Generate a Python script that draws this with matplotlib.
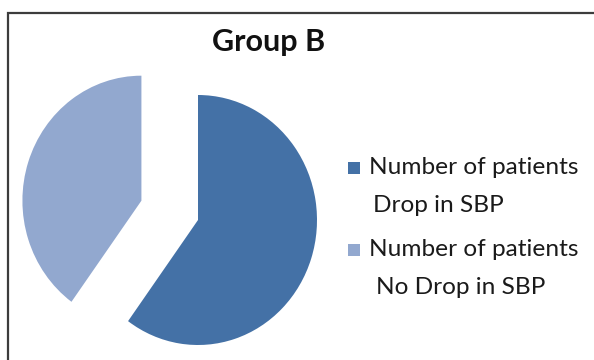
import matplotlib
matplotlib.use("Agg")
import matplotlib.pyplot as plt
from matplotlib.patches import Rectangle

plt.rcParams['font.family'] = ['Lato', 'DejaVu Sans']

# Group B: patients with / without a drop in systolic blood pressure
series = ["Number of patients", "Number of patients"]
subtitles = ["Drop in SBP", "No Drop in SBP"]
counts = [60, 40]
colours = ["#4471A6", "#92A8CF"]
explode = [0, 0.5]

W, H = 594, 360
fig = plt.figure(figsize=(W / 100, H / 100), dpi=100)

# outer chart frame, open on the right and bottom
fig.add_artist(Rectangle((7.5 / W, -0.1), 1.2, (H - 12.5) / H + 0.1,
                         transform=fig.transFigure, fill=False,
                         edgecolor="#3c3c3c", linewidth=1.6))

# pie axes centred on (198, 220) px from the top-left corner
cx, cy, half = 198, H - 220, 200
ax = fig.add_axes([(cx - half) / W, (cy - half) / H, 2 * half / W, 2 * half / H])
wedges, _ = ax.pie(counts, colors=colours, explode=explode, startangle=90,
                   counterclock=False, radius=1.0)
ax.set_xlim(-half / 119, half / 119)
ax.set_ylim(-half / 125, half / 125)
ax.set_aspect("auto")
ax.axis("off")

fig.text(269 / W, 1 - 42 / H, "Group B", ha="center", va="center",
         fontsize=22, fontweight="bold", color="#111111")

# legend: square key level with the first line, second line below it
rows = [168, 250]
indent = [373, 376]
for w, name, sub, y, x2 in zip(wedges, series, subtitles, rows, indent):
    fig.add_artist(Rectangle((348 / W, 1 - (y + 6) / H), 12 / W, 12 / H,
                             transform=fig.transFigure,
                             facecolor=w.get_facecolor(), edgecolor="none"))
    fig.text(369 / W, 1 - y / H, name, ha="left", va="center",
             fontsize=17.6, color="#1a1a1a")
    fig.text(x2 / W, 1 - (y + 37) / H, sub, ha="left", va="center",
             fontsize=17.6, color="#1a1a1a")

fig.savefig("out.png", dpi=100)
